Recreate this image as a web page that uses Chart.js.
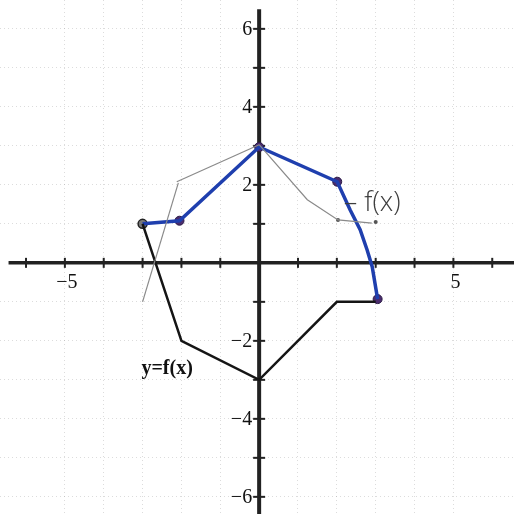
<!DOCTYPE html>
<html>
<head>
<meta charset="utf-8">
<script src="https://cdn.jsdelivr.net/npm/chart.js@4.4.1/dist/chart.umd.min.js"></script>
<style>
  html, body { margin: 0; padding: 0; background: #fff; }
  #wrap { width: 514px; height: 514px; }
</style>
</head>
<body>
<div id="wrap"><canvas id="graph" width="514" height="514"></canvas></div>
<script>
// y = f(x), piecewise linear
const fX = [-3, -2, 0, 2, 3];
const fY = [1, -2, -3, -1, -1];

// hand-drawn transformed graph (blue ink)
const inkX = [-3, -2.05, 0, 2.01, 2.34, 2.6, 2.78, 2.91, 3.05];
const inkY = [1, 1.08, 2.97, 2.08, 1.36, 0.85, 0.33, -0.1, -0.93];
const inkDotX = [-2.05, 0, 2.01, 3.05];
const inkDotY = [1.08, 2.97, 2.08, -0.93];

// pencil construction lines
const pencilAX = [-3, -2.08];
const pencilAY = [-1, 2.05];
const pencilBX = [-2.12, 0];
const pencilBY = [2.08, 3.03];
const pencilCX = [0, 1.24, 2.03, 2.9];
const pencilCY = [3.03, 1.62, 1.1, 1.02];
const pencilDotX = [2.03, 3.0];
const pencilDotY = [1.1, 1.05];

// axis ticks and labels
const xTicks = [-6, -5, -4, -3, -2, -1, 1, 2, 3, 4, 5, 6];
const yTicks = [-6, -5, -4, -3, -2, -1, 1, 2, 3, 4, 5, 6];
const xLabels = [-5, 5];
const yLabels = [-6, -4, -2, 2, 4, 6];

function pts(xs, ys) {
    return xs.map((x, i) => ({ x: x, y: ys[i] }));
}

function lineSet(xs, ys, color, width) {
    return {
        type: 'line',
        data: pts(xs, ys),
        borderColor: color,
        borderWidth: width,
        pointRadius: 0,
        tension: 0,
        fill: false
    };
}

const axesPlugin = {
    id: 'crossAxes',
    beforeDatasetsDraw(chart) {
        const ctx = chart.ctx;
        const sx = chart.scales.x, sy = chart.scales.y;
        const x0 = sx.getPixelForValue(0), y0 = sy.getPixelForValue(0);
        ctx.save();
        ctx.strokeStyle = '#222';
        ctx.lineCap = 'butt';
        // x axis
        ctx.lineWidth = 3.5;
        ctx.beginPath();
        ctx.moveTo(sx.getPixelForValue(-6.45), y0);
        ctx.lineTo(sx.getPixelForValue(6.6), y0);
        ctx.stroke();
        // y axis
        ctx.lineWidth = 4;
        ctx.beginPath();
        ctx.moveTo(x0, sy.getPixelForValue(6.5));
        ctx.lineTo(x0, sy.getPixelForValue(-6.5));
        ctx.stroke();
        // tick marks crossing the axes
        ctx.lineWidth = 2;
        xTicks.forEach(v => {
            const px = sx.getPixelForValue(v);
            ctx.beginPath();
            ctx.moveTo(px, y0 - 5);
            ctx.lineTo(px, y0 + 5);
            ctx.stroke();
        });
        yTicks.forEach(v => {
            const py = sy.getPixelForValue(v);
            ctx.beginPath();
            ctx.moveTo(x0 - 6, py);
            ctx.lineTo(x0 + 6, py);
            ctx.stroke();
        });
        // tick labels
        ctx.fillStyle = '#111';
        ctx.font = '20px "Liberation Serif", serif';
        ctx.textAlign = 'center';
        ctx.textBaseline = 'top';
        xLabels.forEach(v => {
            const txt = v < 0 ? '\u2212' + Math.abs(v) : String(v);
            ctx.fillText(txt, sx.getPixelForValue(v) + 2, y0 + 10);
        });
        ctx.textAlign = 'right';
        ctx.textBaseline = 'middle';
        yLabels.forEach(v => {
            const txt = v < 0 ? '\u2212' + Math.abs(v) : String(v);
            ctx.fillText(txt, x0 - 7, sy.getPixelForValue(v) + 1);
        });
        ctx.restore();
    },
    afterDatasetsDraw(chart) {
        const ctx = chart.ctx;
        const sx = chart.scales.x, sy = chart.scales.y;
        ctx.save();
        // graph name
        ctx.fillStyle = '#111';
        ctx.font = 'bold 20px "Liberation Serif", serif';
        ctx.textAlign = 'left';
        ctx.textBaseline = 'middle';
        ctx.fillText('y=f(x)', sx.getPixelForValue(-3.03), sy.getPixelForValue(-2.73));
        // pencil note
        ctx.fillStyle = '#3e3e3e';
        ctx.font = '300 27px "Open Sans", sans-serif';
        ctx.fillText('\u2013 f(x)', sx.getPixelForValue(2.18), sy.getPixelForValue(1.52));
        ctx.restore();
    }
};

function gridAxis(min, max) {
    return {
        type: 'linear',
        min: min,
        max: max,
        ticks: { display: false, stepSize: 1 },
        border: { display: false, dash: [1, 3] },
        grid: { color: 'rgba(140,140,140,0.3)', lineWidth: 1, drawTicks: false },
        afterBuildTicks: s => { s.ticks = s.ticks.filter(t => Number.isInteger(t.value) && t.value !== 0); }
    };
}

new Chart(document.getElementById('graph'), {
    type: 'scatter',
    data: {
        datasets: [
            lineSet(pencilAX, pencilAY, '#8a8a8a', 1.2),
            lineSet(pencilBX, pencilBY, '#8a8a8a', 1.2),
            lineSet(pencilCX, pencilCY, '#8a8a8a', 1.2),
            {
                data: pts(pencilDotX, pencilDotY),
                backgroundColor: '#555',
                borderWidth: 0,
                pointRadius: 2
            },
            lineSet(fX, fY, '#151515', 2.5),
            lineSet(inkX, inkY, '#1f3fae', 3.5),
            {
                data: pts([-3], [1]),
                backgroundColor: '#7a7a7a',
                borderColor: '#222',
                borderWidth: 1.5,
                pointRadius: 4.5
            },
            {
                data: pts(inkDotX, inkDotY),
                backgroundColor: '#4b2c6e',
                borderColor: '#2a1a45',
                borderWidth: 1,
                pointRadius: 4.5
            }
        ]
    },
    options: {
        responsive: false,
        animation: false,
        events: [],
        layout: { padding: 0, autoPadding: false },
        plugins: {
            legend: { display: false },
            tooltip: { enabled: false }
        },
        scales: {
            x: gridAxis(-6.67, 6.56),
            y: gridAxis(-6.44, 6.74)
        }
    },
    plugins: [axesPlugin]
});
</script>
</body>
</html>
